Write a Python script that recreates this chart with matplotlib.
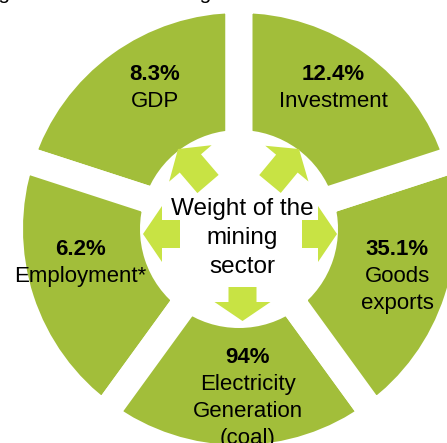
import matplotlib.pyplot as plt
from matplotlib.patches import FancyArrow

plt.rcParams['font.family'] = ['Liberation Sans', 'DejaVu Sans']

# segments go counterclockwise starting from the gap at the top
indicators = ["GDP", "Employment*", "Electricity\nGeneration\n(coal)", "Goods\nexports", "Investment"]
shares = [8.3, 6.2, 94, 35.1, 12.4]
centre_lines = ["Weight of the", "mining", "sector"]
title = "Assessing the role of the mining sector in Chile"

W, H = 447, 443
green = "#A2BE3A"
light_green = "#C8E344"

fig = plt.figure(figsize=(W / 100, H / 100), dpi=100)
ax = fig.add_axes([0, 0, 1, 1])

# ring geometry in pixels (y measured from the top)
cx, cy = 239, 229
r_out, r_in = 216, 99
gap = 27
ax.pie([1] * len(indicators), colors=[green] * len(indicators),
       startangle=90, counterclock=True,
       radius=r_out + gap / 2, center=(cx, H - cy),
       wedgeprops=dict(width=r_out - r_in + gap, edgecolor='white',
                       linewidth=gap * 72 / 100))

ax.set_xlim(0, W)
ax.set_ylim(0, H)
ax.set_aspect('auto')
ax.axis('off')

# value + label for each segment: (x centre, baseline of the value)
label_pos = [(155, 80), (80, 255), (248, 363), (397, 255), (333, 80)]
step = 27
for name, val, (x, y) in zip(indicators, shares, label_pos):
    ax.text(x, H - y, f"{val:g}%", ha='center', va='baseline',
            fontsize=16, fontweight='bold')
    for i, line in enumerate(name.split("\n")):
        ax.text(x, H - y - (i + 1) * step, line, ha='center', va='baseline', fontsize=16)

# arrows pointing out of the centre: (rear, tip)
arrows = [((208, 184), (178, 149)), ((270, 184), (299, 149)),
          ((180, 234), (143, 234)), ((302, 234), (337, 234)),
          ((242.5, 287), (242.5, 321))]
for (x0, y0), (x1, y1) in arrows:
    ax.add_patch(FancyArrow(x0, H - y0, x1 - x0, y0 - y1, width=28,
                            head_width=56, head_length=19,
                            length_includes_head=True,
                            color=light_green, lw=0))

for i, line in enumerate(centre_lines):
    ax.text(242, H - 215 - i * 29, line, ha='center', va='baseline', fontsize=17.5)

ax.text(-85, H + 1, title, ha='left', va='baseline', fontsize=15, clip_on=False)

fig.savefig("out.png", dpi=100)
